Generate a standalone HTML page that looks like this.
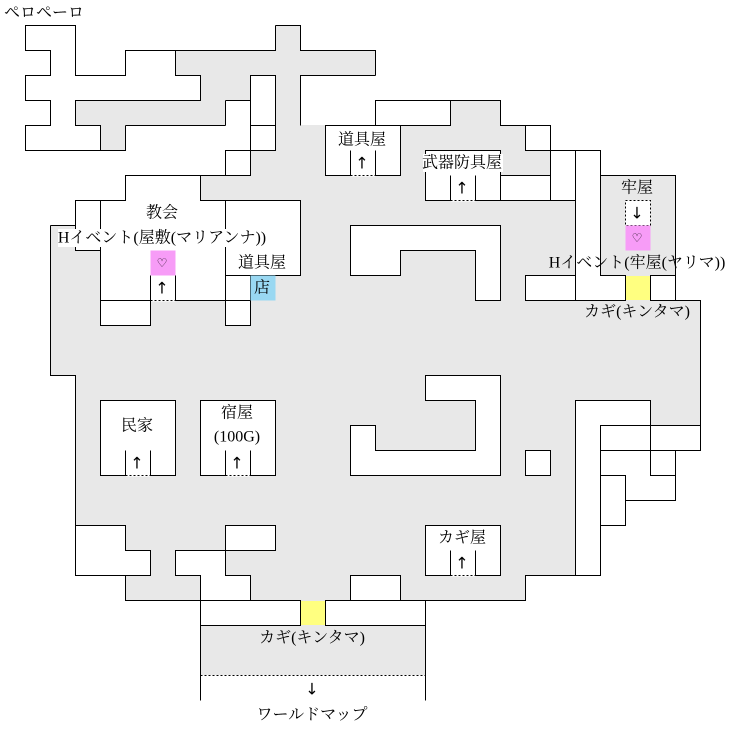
<!DOCTYPE html>
<html><head><meta charset="utf-8"><style>
html,body{margin:0;padding:0;background:#fff;}
svg{display:block;}
text{font-family:"Liberation Serif","Noto Serif CJK SC",serif;font-size:16px;fill:#000;}
text.ar{font-family:"DejaVu Sans",sans-serif;font-size:16px;}
text.ht{font-family:"DejaVu Sans",sans-serif;font-size:12px;}
</style></head><body>
<svg width="730" height="734" viewBox="0 0 730 734" xmlns="http://www.w3.org/2000/svg">
<g fill="#e8e8e8">
<rect x="275" y="25" width="25" height="150"/>
<rect x="175" y="50" width="200" height="25"/>
<rect x="200" y="75" width="50" height="25"/>
<rect x="75" y="100" width="150" height="25"/>
<rect x="100" y="125" width="25" height="25"/>
<rect x="300" y="125" width="25" height="50"/>
<rect x="250" y="150" width="50" height="25"/>
<rect x="450" y="100" width="50" height="25"/>
<rect x="400" y="125" width="125" height="25"/>
<rect x="400" y="150" width="150" height="25"/>
<polygon points="75,200 125,200 125,175 675,175 675,300 700,300 700,450 675,450 675,500 625,500 625,525 600,525 600,575 525,575 525,600 425,600 425,675 200,675 200,600 125,600 125,575 75,575 75,375 50,375 50,225 75,225"/>
</g>
<g transform="translate(0.5,0.5)" stroke="#000" stroke-width="1" fill="#fff">
<polygon points="25,25 75,25 75,75 125,75 125,50 175,50 175,75 200,75 200,100 75,100 75,125 100,125 100,150 25,150 25,125 50,125 50,100 25,100 25,75 50,75 50,50 25,50"/>
<rect x="250" y="75" width="25" height="50"/>
<rect x="250" y="125" width="25" height="25"/>
<rect x="225" y="150" width="25" height="25"/>
<path d="M300,125V75H375" fill="none"/>
<rect x="375" y="100" width="75" height="25"/>
<rect x="325" y="125" width="75" height="50"/>
<rect x="525" y="125" width="25" height="25"/>
<rect x="550" y="150" width="25" height="50"/>
<polygon points="575,150 600,150 600,275 625,275 625,300 575,300"/>
<rect x="425" y="150" width="75" height="50"/>
<rect x="500" y="175" width="50" height="25"/>
<rect x="525" y="275" width="50" height="25"/>
<rect x="650" y="275" width="25" height="25"/>
<polygon points="75,200 125,200 125,175 200,175 200,200 300,200 300,275 250,275 250,325 225,325 225,300 100,300 100,250 75,250"/>
<line x1="100" y1="200" x2="100" y2="300"/>
<line x1="225" y1="200" x2="225" y2="300"/>
<line x1="225" y1="275" x2="250" y2="275"/>
<line x1="225" y1="300" x2="250" y2="300"/>
<rect x="100" y="300" width="50" height="25"/>
<polygon points="350,225 500,225 500,300 475,300 475,250 400,250 400,275 350,275"/>
<polygon points="425,375 500,375 500,475 350,475 350,425 375,425 375,450 475,450 475,400 425,400"/>
<rect x="525" y="450" width="25" height="25"/>
<rect x="100" y="400" width="75" height="75"/>
<rect x="200" y="400" width="75" height="75"/>
<rect x="425" y="525" width="75" height="50"/>
<polygon points="575,400 650,400 650,425 600,425 600,575 575,575"/>
<polygon points="600,425 700,425 700,450 675,450 675,500 625,500 625,525 600,525"/>
<polygon points="75,525 125,525 125,550 150,550 150,575 75,575"/>
<polygon points="175,550 225,550 225,575 250,575 250,600 200,600 200,575 175,575"/>
<rect x="225" y="525" width="50" height="25"/>
<rect x="350" y="575" width="50" height="25"/>
<rect x="200" y="600" width="100" height="25"/>
<rect x="325" y="600" width="100" height="25"/>
</g>
<g transform="translate(0.5,0.5)" stroke="#000" stroke-width="1" fill="none">
<path d="M275,25H300V50H375V75 M275,25V50H175 M225,100V125 M225,100H250 M125,125H225 M100,150H125V125 M200,175H225 M450,100H500V125H525 M600,175H675V275 M675,300H700V450 M50,225H75 M50,225V375H75V525 M125,575V600H200 M200,625V700 M425,625V700 M400,600H525V575H575 M350,575H400 M650,425V475H675 M600,450H675 M600,475H625V500"/>
<path d="M350,150V175 M375,150V175 M450,175V200 M475,175V200 M150,275V300 M175,275V300 M125,450V475 M150,450V475 M225,450V475 M250,450V475 M450,550V575 M475,550V575"/>
</g>
<g stroke="#fff" stroke-width="2">
<path d="M351,175.5H375 M451,200.5H475 M151,300.5H175 M126,475.5H150 M226,475.5H250 M451,575.5H475"/>
</g>
<g transform="translate(0.5,0.5)" stroke="#000" stroke-width="1" stroke-dasharray="2,2" fill="none">
<path d="M350,175H375 M450,200H475 M150,300H175 M125,475H150 M225,475H250 M450,575H475 M200,675H425"/>
<rect x="625" y="200" width="25" height="25" fill="#fff"/>
</g>
<rect x="625.5" y="225.5" width="25" height="25" fill="#f79cf7"/>
<rect x="150.5" y="250.5" width="25" height="25" fill="#f79cf7"/>
<rect x="250.5" y="275.5" width="25" height="25" fill="#99d8f2"/>
<rect x="626" y="276" width="24" height="24" fill="#ffff80"/>
<rect x="301" y="601" width="24" height="24" fill="#ffff80"/>
<rect x="423" y="154" width="80" height="18" fill="#fff"/>
<rect x="58" y="229" width="210" height="18" fill="#fff"/>
<g text-anchor="middle" dominant-baseline="central">
<text x="44" y="13" font-size="15">ペロペーロ</text>
<text x="362" y="140">道具屋</text>
<text class="ar" x="362" y="163">↑</text>
<text x="462" y="163">武器防具屋</text>
<text class="ar" x="462" y="188">↑</text>
<text x="637" y="188">牢屋</text>
<text class="ar" x="637" y="213">↓</text>
<text class="ht" x="637" y="238">♡</text>
<text x="637" y="263">Hイベント(牢屋(ヤリマ))</text>
<text x="637" y="312">カギ(キンタマ)</text>
<text x="162" y="213">教会</text>
<text x="162" y="238">Hイベント(屋敷(マリアンナ))</text>
<text x="262" y="263">道具屋</text>
<text x="262" y="288">店</text>
<text class="ht" x="162" y="263">♡</text>
<text class="ar" x="162" y="288">↑</text>
<text x="137" y="426">民家</text>
<text class="ar" x="137" y="463">↑</text>
<text x="237" y="413">宿屋</text>
<text x="237" y="437">(100G)</text>
<text class="ar" x="237" y="463">↑</text>
<text x="462" y="538">カギ屋</text>
<text class="ar" x="462" y="563">↑</text>
<text x="312" y="638">カギ(キンタマ)</text>
<text class="ar" x="312" y="689">↓</text>
<text x="312" y="715">ワールドマップ</text>
</g>
</svg>
</body></html>
